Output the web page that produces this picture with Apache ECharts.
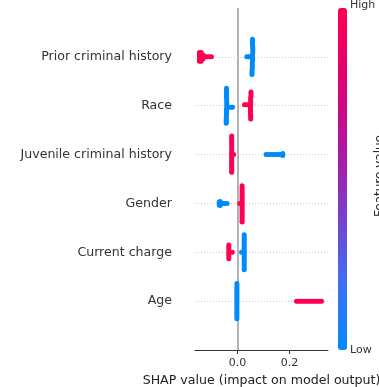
<!DOCTYPE html>
<html><head><meta charset="utf-8">
<script src="https://cdn.jsdelivr.net/npm/echarts@6/dist/echarts.min.js"></script>
<style>html,body{margin:0;padding:0;background:#fff}#c{width:379px;height:387px}</style>
</head><body><div id="c"></div>
<script>
// Feature names (top to bottom)
const features = ['Prior criminal history','Race','Juvenile criminal history','Gender','Current charge','Age'];
const xTicks = [0, 0.2];
const xTickLabels = ['0.0', '0.2'];
const xTitle = 'SHAP value (impact on model output)';
const cbHigh = 'High', cbLow = 'Low', cbTitle = 'Feature value';

// Per feature: SHAP values, beeswarm jitter (row units), feature value (0 low, 1 high)
const priorShap   = [0.058,0.058,0.058,0.058,0.059,0.059,0.059,0.059,0.058,0.058,0.058,0.058,0.057,0.057,0.057,0.057,0.056,0.056,0.056, 0.036,0.042,0.048,
                     -0.146,-0.146,-0.146,-0.146,-0.146,-0.139,-0.139,-0.139,-0.139,-0.139,-0.132,-0.132,-0.132,-0.124,-0.116,-0.108,-0.100];
const priorJit    = [-0.36,-0.32,-0.28,-0.24,-0.20,-0.16,-0.12,-0.08,-0.04,0,0.04,0.08,0.12,0.16,0.20,0.24,0.28,0.32,0.36, 0,0,0,
                     -0.09,-0.05,0,0.05,0.09,-0.09,-0.05,0,0.05,0.09,-0.04,0,0.04,0,0,0,0];
const priorVal    = [0,0,0,0,0,0,0,0,0,0,0,0,0,0,0,0,0,0,0,0,0,0,
                     1,1,1,1,1,1,1,1,1,1,1,1,1,1,1,1,1];

const raceShap    = [-0.042,-0.042,-0.042,-0.042,-0.042,-0.042,-0.041,-0.041,-0.041,-0.041,-0.041,-0.042,-0.042,-0.042,-0.042,-0.043,-0.043,-0.043,-0.043, -0.032,-0.025,-0.019,
                     0.052,0.052,0.052,0.051,0.051,0.051,0.051,0.050,0.050,0.050,0.050,0.050,0.051,0.051,0.051, 0.041,0.034,0.027];
const raceJit     = [-0.36,-0.32,-0.28,-0.24,-0.20,-0.16,-0.12,-0.08,-0.04,0,0.04,0.08,0.12,0.16,0.20,0.24,0.28,0.32,0.36, 0.03,0.03,0.03,
                     -0.28,-0.24,-0.20,-0.16,-0.12,-0.08,-0.04,0,0.04,0.08,0.12,0.16,0.20,0.24,0.27, -0.02,-0.02,-0.02];
const raceVal     = [0,0,0,0,0,0,0,0,0,0,0,0,0,0,0,0,0,0,0,0,0,0,
                     1,1,1,1,1,1,1,1,1,1,1,1,1,1,1,1,1,1];

const juvShap     = [-0.022,-0.022,-0.022,-0.022,-0.022,-0.022,-0.022,-0.022,-0.022,-0.022,-0.022,-0.022,-0.022,-0.022,-0.022,-0.022,-0.022,-0.022,-0.022,-0.022, -0.014,
                     0.110,0.118,0.126,0.134,0.142,0.150,0.158,0.166,0.172,0.174,0.174];
const juvJit      = [-0.38,-0.34,-0.30,-0.26,-0.22,-0.18,-0.14,-0.10,-0.06,-0.02,0.02,0.06,0.10,0.14,0.18,0.22,0.26,0.30,0.34,0.36, 0,
                     0,0,0,0,0,0,0,0,0,-0.02,0.02];
const juvVal      = [1,1,1,1,1,1,1,1,1,1,1,1,1,1,1,1,1,1,1,1,1,
                     0,0,0,0,0,0,0,0,0,0,0];

const genderShap  = [-0.070,-0.070,-0.068,-0.066,-0.066,-0.060,-0.053,-0.046,-0.040,
                     0.018,0.018,0.018,0.018,0.018,0.018,0.018,0.018,0.018,0.018,0.018,0.018,0.018,0.018,0.018,0.018,0.018,0.018,0.018,0.018, 0.009];
const genderJit   = [-0.03,0.03,0,-0.04,0.04,0,0,0,0,
                     -0.36,-0.32,-0.28,-0.24,-0.20,-0.16,-0.12,-0.08,-0.04,0,0.04,0.08,0.12,0.16,0.20,0.24,0.28,0.32,0.36,0.38, 0];
const genderVal   = [0,0,0,0,0,0,0,0,0,
                     1,1,1,1,1,1,1,1,1,1,1,1,1,1,1,1,1,1,1,1,1];

const chargeShap  = [-0.033,-0.033,-0.033,-0.033,-0.033,-0.033,-0.033,-0.033,-0.026,-0.020,
                     0.026,0.026,0.026,0.026,0.026,0.026,0.026,0.026,0.026,0.026,0.026,0.026,0.026,0.026,0.026,0.026,0.026,0.026,0.026, 0.016];
const chargeJit   = [-0.15,-0.11,-0.07,-0.03,0.01,0.05,0.09,0.13,0,0,
                     -0.36,-0.32,-0.28,-0.24,-0.20,-0.16,-0.12,-0.08,-0.04,0,0.04,0.08,0.12,0.16,0.20,0.24,0.28,0.32,0.36, 0];
const chargeVal   = [1,1,1,1,1,1,1,1,1,1,
                     0,0,0,0,0,0,0,0,0,0,0,0,0,0,0,0,0,0,0,0];

const ageShap     = [-0.002,-0.002,-0.002,-0.002,-0.002,-0.002,-0.002,-0.002,-0.002,-0.002,-0.002,-0.002,-0.002,-0.002,-0.002,-0.002,-0.002,-0.002,-0.002,
                     0.227,0.235,0.243,0.251,0.259,0.267,0.275,0.283,0.291,0.299,0.307,0.315,0.323];
const ageJit      = [-0.36,-0.32,-0.28,-0.24,-0.20,-0.16,-0.12,-0.08,-0.04,0,0.04,0.08,0.12,0.16,0.20,0.24,0.28,0.32,0.36,
                     0,0,0,0,0,0,0,0,0,0,0,0,0];
const ageVal      = [0,0,0,0,0,0,0,0,0,0,0,0,0,0,0,0,0,0,0,
                     1,1,1,1,1,1,1,1,1,1,1,1,1];

const shapRows = [priorShap, raceShap, juvShap, genderShap, chargeShap, ageShap];
const jitRows  = [priorJit, raceJit, juvJit, genderJit, chargeJit, ageJit];
const valRows  = [priorVal, raceVal, juvVal, genderVal, chargeVal, ageVal];

const data = [];
shapRows.forEach((row, i) => {
  row.forEach((s, k) => data.push([s, i + jitRows[i][k], valRows[i][k]]));
});

const FONT = 'DejaVu Sans';
const chart = echarts.init(document.getElementById('c'), null, {renderer: 'canvas'});
chart.setOption({
  animation: false,
  backgroundColor: '#fff',
  grid: {left: 195, right: 51, top: 8, bottom: 37, containLabel: false, outerBoundsMode: 'none'},
  xAxis: {
    type: 'value', min: -0.163, max: 0.348,
    axisLine: {show: true, onZero: false, lineStyle: {color: '#333', width: 1}},
    axisTick: {show: true, customValues: xTicks, length: 4, lineStyle: {color: '#333'}},
    axisLabel: {customValues: xTicks, formatter: v => xTickLabels[xTicks.indexOf(v)] ?? '',
                fontFamily: FONT, fontSize: 11, color: '#333', margin: 8},
    splitLine: {show: false},
    name: xTitle, nameLocation: 'middle', nameGap: 24,
    nameTextStyle: {fontFamily: FONT, fontSize: 12.6, color: '#222'}
  },
  yAxis: {
    type: 'value', min: -1, max: 6, interval: 1, inverse: true,
    axisLine: {show: false}, axisTick: {show: false}, splitLine: {show: false},
    axisLabel: {formatter: v => features[v] ?? '', fontFamily: FONT, fontSize: 12.6, color: '#333', margin: 23}
  },
  visualMap: {
    type: 'continuous', dimension: 2, min: 0, max: 1, seriesIndex: 0,
    inRange: {color: ['#008bfb', '#3f6ff0', '#7a3fc8', '#b4139f', '#e00070', '#ff0052']},
    left: 338, top: 8, itemWidth: 9, itemHeight: 342, padding: 0,
    calculable: false, text: null, showLabel: false, realtime: false
  },
  graphic: [
    {type: 'text', left: 350, top: 0, style: {text: cbHigh, font: '11px "DejaVu Sans"', fill: '#333'}},
    {type: 'text', left: 350, top: 345, style: {text: cbLow, font: '11px "DejaVu Sans"', fill: '#333'}},
    {type: 'text', x: 380, y: 176, rotation: Math.PI / 2,
     style: {text: cbTitle, font: '12px "DejaVu Sans"', fill: '#222', align: 'center', verticalAlign: 'middle'}}
  ],
  series: [
    {type: 'scatter', data: data, symbolSize: 5, z: 3, itemStyle: {opacity: 1}},
    {
      type: 'scatter', data: [], z: 1,
      markLine: {
        silent: true, symbol: 'none', label: {show: false}, z: 1,
        data: [
          {xAxis: 0, lineStyle: {color: '#999', type: 'solid', width: 1.5}},
          ...features.map((f, i) => ({yAxis: i, lineStyle: {color: '#ccc', type: [1, 2], width: 1}}))
        ]
      }
    }
  ]
});
</script></body></html>
